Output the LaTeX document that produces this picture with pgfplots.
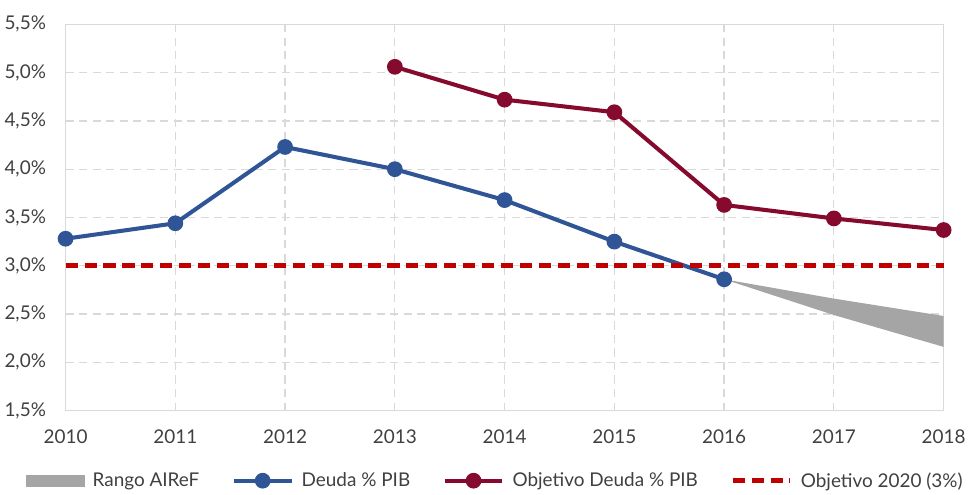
\documentclass[border=0pt]{standalone}
\usepackage{pgfplots}
\pgfplotsset{compat=1.18}
\usepackage{fontspec}
\setmainfont{Lato}
\definecolor{cblue}{RGB}{47,85,151}
\definecolor{cwine}{RGB}{133,10,45}
\definecolor{cred}{RGB}{192,0,0}
\definecolor{cgray}{RGB}{165,165,165}
\definecolor{cgrid}{RGB}{217,217,217}
\definecolor{ctext}{RGB}{64,64,64}
\begin{document}
\begin{tikzpicture}
\begin{axis}[
  width=649.5pt, height=285.75pt, scale only axis,
  xmin=2010, xmax=2018, ymin=1.5, ymax=5.5,
  xtick={2010,...,2018}, ytick={1.5,2,...,5.5},
  /pgf/number format/assume math mode=true,
  yticklabel={\pgfmathprintnumber[use comma,fixed,fixed zerofill,precision=1]{\tick}\%},
  xticklabel={\pgfmathprintnumber[1000 sep={}]{\tick}},
  tick label style={font=\fontsize{14}{17}\selectfont, text=ctext},
  yticklabel style={xshift=-11pt},
  xticklabel style={yshift=-11pt},
  major tick length=0pt,
  axis line style={cgrid, line width=1.2pt},
  grid=major, major grid style={cgrid, dashed, line width=1pt, dash pattern=on 6pt off 4pt},
  xtick pos=bottom, ytick pos=left,
  legend style={at={(0.49,-0.145)}, anchor=north, draw=none, fill=none,
    font=\fontsize{14}{17}\selectfont, text=ctext, legend columns=4,
    /tikz/every odd column/.append style={column sep=4pt},
    /tikz/every even column/.append style={column sep=22pt}},
  legend cell align=left,
  legend image code/.code={\draw[mark repeat=2,mark phase=2,#1] plot coordinates {(0cm,0cm) (0.75cm,0cm) (1.5cm,0cm)};},
  clip=false,
]
\addplot[fill=cgray, draw=none, forget plot] coordinates {(2016,2.86) (2017,2.66) (2018,2.48) (2018,2.16) (2017,2.49) (2016,2.86)};
\addlegendimage{legend image code/.code={\fill[cgray] (0cm,-0.14cm) rectangle (1.5cm,0.14cm);}}
\addlegendentry{Rango AIReF}
\addplot[color=cblue, line width=3pt, mark=*, mark size=4.3pt, mark options={solid}] coordinates {(2010,3.28) (2011,3.44) (2012,4.23) (2013,4.00) (2014,3.68) (2015,3.25) (2016,2.86)};
\addlegendentry{Deuda \% PIB}
\addplot[color=cwine, line width=3pt, mark=*, mark size=4.3pt] coordinates {(2013,5.06) (2014,4.72) (2015,4.59) (2016,3.63) (2017,3.49) (2018,3.37)};
\addlegendentry{Objetivo Deuda \% PIB}
\addplot[color=cred, line width=3.5pt, dash pattern=on 9pt off 5pt] coordinates {(2010,3.0) (2018,3.0)};
\addlegendentry{Objetivo 2020 (3\%)}
\end{axis}
\path ([yshift=18pt]current axis.north west) -- ([yshift=18pt]current axis.north east);
\end{tikzpicture}
\end{document}
